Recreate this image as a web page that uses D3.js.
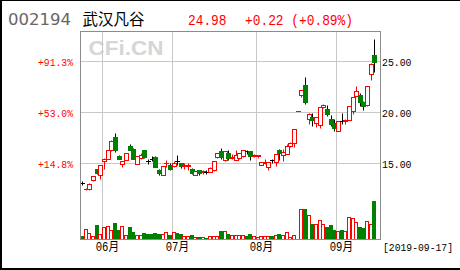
<!DOCTYPE html>
<html>
<head>
<meta charset="utf-8">
<script src="https://cdn.jsdelivr.net/npm/d3@7"></script>
<style>
body { margin: 0; background: #fff; }
svg { display: block; }
</style>
</head>
<body>
<div id="chart"></div>
<script>
const stockCode = "002194";
const stockName = "武汉凡谷";
const lastDate = "2019-09-17";
const monthLabels = ["06月", "07月", "08月", "09月"];
const monthStartIndex = [6, 25, 48, 70];
const priceTicks = [15, 20, 25];

// daily candles, 2019-05-24 .. 2019-09-17
const open = [13.07, 12.47, 12.45, 13.35, 14.41, 13.85, 15.20, 15.46, 16.27, 17.58,
  15.72, 14.97, 15.36, 16.70, 16.40, 14.97, 15.50, 16.27, 15.20, 15.45,
  15.62, 14.31, 13.90, 15.00, 14.80, 14.70, 15.23, 15.03, 14.70, 14.74,
  14.48, 13.90, 14.31, 14.15, 14.12, 14.15, 14.31, 15.62, 16.21, 15.29,
  16.00, 15.56, 15.36, 15.50, 15.69, 16.20, 16.17, 15.75, 15.70, 14.87,
  15.00, 14.64, 15.29, 15.13, 16.27, 15.78, 15.95, 16.70, 17.00, 20.16,
  21.67, 22.65, 19.30, 19.50, 18.95, 18.80, 20.50, 20.32, 19.38, 18.95,
  18.20, 19.19, 19.15, 19.28, 20.10, 21.64, 21.73, 21.00, 20.69, 23.75, 25.60];
const high = [13.27, 12.56, 13.02, 13.76, 14.45, 14.82, 15.50, 16.30, 17.25, 17.97,
  15.78, 15.26, 16.05, 16.86, 16.50, 15.72, 16.05, 16.30, 15.40, 15.69,
  15.70, 14.46, 14.78, 15.36, 15.05, 15.25, 15.78, 15.06, 15.00, 15.07,
  14.52, 14.22, 14.35, 14.35, 14.30, 14.60, 15.26, 16.05, 16.47, 16.25,
  16.30, 15.90, 16.30, 16.05, 16.30, 16.35, 16.25, 15.90, 15.85, 15.16,
  15.40, 15.16, 15.40, 15.90, 16.40, 16.43, 16.90, 17.05, 18.34, 20.17,
  22.19, 23.46, 19.95, 19.93, 19.55, 20.52, 20.80, 20.69, 19.77, 19.38,
  19.15, 19.93, 19.30, 20.62, 21.50, 22.55, 21.90, 21.08, 22.58, 24.80, 27.22];
const low = [12.84, 12.42, 12.42, 13.30, 14.00, 13.50, 14.40, 15.40, 16.20, 16.10,
  15.40, 14.64, 15.30, 16.30, 15.40, 14.90, 15.45, 15.50, 14.95, 15.20,
  14.60, 13.85, 13.85, 14.64, 14.35, 14.65, 14.80, 14.50, 14.40, 14.35,
  14.00, 13.85, 13.90, 13.95, 13.95, 14.10, 14.25, 15.55, 15.45, 15.20,
  15.30, 15.40, 15.30, 15.40, 15.60, 15.95, 15.36, 15.60, 15.55, 14.80,
  14.90, 14.38, 15.00, 14.75, 15.30, 15.20, 15.90, 16.60, 16.55, 20.16,
  21.50, 20.85, 18.90, 18.63, 18.60, 18.50, 20.45, 19.60, 18.63, 18.20,
  18.15, 18.85, 18.90, 19.20, 19.80, 21.60, 20.59, 20.26, 20.60, 23.20, 24.00];
const close = [13.07, 12.52, 12.98, 13.73, 14.05, 14.80, 15.46, 16.27, 17.16, 16.27,
  15.46, 15.23, 16.01, 16.34, 15.46, 15.69, 15.78, 15.62, 15.20, 15.45,
  14.64, 14.05, 14.74, 15.07, 14.41, 15.07, 15.23, 14.74, 14.80, 14.84,
  14.05, 14.20, 14.05, 14.22, 14.12, 14.58, 15.23, 16.01, 15.62, 16.20,
  15.50, 15.65, 15.78, 16.00, 16.27, 16.20, 15.69, 15.80, 15.78, 15.13,
  15.10, 15.13, 15.29, 15.88, 16.00, 16.11, 16.67, 16.99, 18.34, 20.17,
  22.19, 21.00, 19.87, 19.20, 19.50, 20.49, 20.69, 19.83, 18.85, 18.46,
  19.12, 19.19, 19.22, 20.59, 21.47, 22.06, 21.00, 20.59, 22.55, 24.76, 24.98];
const volume = [3.3, 11, 6.7, 3.3, 14.3, 6, 12, 13.3, 9.3, 16.7,
  9.3, 13.3, 4.3, 12.7, 7.7, 4.3, 4.3, 6.7, 5.3, 5.3,
  6.7, 6, 5.3, 7.3, 4.3, 7.3, 6.7, 6, 3.3, 3.3,
  4.3, 2.3, 2.3, 2.3, 1.7, 3.3, 4, 4, 8.3, 8.3,
  6, 4.3, 5, 4.3, 5, 3.7, 5.3, 3.3, 2.7, 4,
  3.7, 4, 4, 4.3, 5.3, 5, 7, 2, 5, 1,
  31, 31, 25, 16, 16, 20, 16, 12.7, 14.3, 10,
  9, 10, 8.3, 23, 21.6, 18, 13, 11.5, 19, 16, 38.5];

const RED = "#ff0000", GREEN = "#008000";

function drawChart() {
    let width = 460, height = 270;
    let plotLeft = 80, plotRight = 381, plotTop = 31, plotBottom = 240;

    let svg = d3.select("#chart")
        .append("svg")
        .attr("width", width)
        .attr("height", height)
        .style("background", "#fff");

    let x = d3.scaleLinear().domain([-0.6, 81.8]).range([plotLeft, plotRight]);
    let y = d3.scaleLinear().domain([15, 25]).range([163.3, 61.3]);
    let yVol = d3.scaleLinear().domain([0, 40]).range([239.5, 199.5]);
    let px = v => Math.round(v) + 0.5;

    // outer frame (left, top, bottom)
    svg.append("rect").attr("x", 0).attr("y", 0).attr("width", 2).attr("height", height).attr("fill", "#000");
    svg.append("rect").attr("x", 0).attr("y", 0).attr("width", width).attr("height", 1).attr("fill", "#000");
    svg.append("rect").attr("x", 0).attr("y", height - 2).attr("width", width).attr("height", 2).attr("fill", "#000");

    // header
    svg.append("text").attr("x", 8).attr("y", 25)
        .style("font-family", "DejaVu Sans").style("font-size", "16.5px").attr("fill", "#666")
        .attr("textLength", 63).text(stockCode);
    svg.append("text").attr("x", 82.5).attr("y", 25)
        .style("font-family", "Noto Sans CJK SC").style("font-size", "15.5px").attr("fill", "#000")
        .text(stockName);

    let last = close[close.length - 1], prev = close[close.length - 2];
    let chg = last - prev;
    svg.append("text").attr("x", 188).attr("y", 25)
        .style("font-family", "Liberation Mono").style("font-size", "15px").attr("fill", RED)
        .attr("textLength", 38.5).attr("lengthAdjust", "spacingAndGlyphs")
        .text(d3.format(".2f")(last));
    svg.append("text").attr("x", 245).attr("y", 25)
        .style("font-family", "Liberation Mono").style("font-size", "15px").attr("fill", RED)
        .attr("textLength", 108).attr("lengthAdjust", "spacingAndGlyphs")
        .text(d3.format("+.2f")(chg) + " (" + d3.format("+.2%")(chg / prev) + ")");

    // watermark
    svg.append("text").attr("x", 88.5).attr("y", 55)
        .style("font-family", "Liberation Sans").style("font-weight", "bold").style("font-size", "21px")
        .attr("fill", "#d6d6d6").attr("textLength", 75).attr("lengthAdjust", "spacingAndGlyphs")
        .text("CFi.CN");

    // grid
    let grid = svg.append("g").attr("stroke", "#c8c8c8").attr("stroke-width", 1);
    priceTicks.forEach(t => {
        grid.append("line").attr("x1", plotLeft).attr("x2", plotRight)
            .attr("y1", px(y(t))).attr("y2", px(y(t)));
    });
    monthStartIndex.forEach(i => {
        grid.append("line").attr("x1", px(x(i - 0.5))).attr("x2", px(x(i - 0.5)))
            .attr("y1", plotTop).attr("y2", plotBottom);
    });

    // axis labels
    let base = close[0];
    priceTicks.forEach(t => {
        svg.append("text").attr("x", 73).attr("y", px(y(t)) + 4)
            .attr("text-anchor", "end")
            .style("font-family", "Liberation Mono").style("font-size", "10.5px").attr("fill", RED)
            .attr("textLength", 35).attr("lengthAdjust", "spacingAndGlyphs")
            .text(d3.format("+.1%")(t / base - 1));
        svg.append("text").attr("x", 382).attr("y", px(y(t)) + 4)
            .style("font-family", "Liberation Mono").style("font-size", "10.5px").attr("fill", "#000")
            .attr("textLength", 29.5).attr("lengthAdjust", "spacingAndGlyphs")
            .text(d3.format(".2f")(t));
    });
    monthStartIndex.forEach((i, k) => {
        svg.append("text").attr("x", px(x(i - 0.5)) - 6.8).attr("y", 250.5)
            .style("font-family", "Liberation Mono, Noto Sans CJK SC").style("font-size", "12px").attr("fill", "#000")
            .attr("textLength", 23.3).attr("lengthAdjust", "spacingAndGlyphs")
            .text(monthLabels[k]);
    });
    svg.append("text").attr("x", 383).attr("y", 250.5)
        .style("font-family", "Liberation Mono").style("font-size", "11.5px").attr("fill", "#000")
        .attr("textLength", 70).attr("lengthAdjust", "spacingAndGlyphs")
        .text("[" + lastDate + "]");

    // volume bars
    let vol = svg.append("g");
    volume.forEach((v, i) => {
        let cx = px(x(i));
        let top = px(yVol(v));
        let up = close[i] > open[i];
        vol.append("rect")
            .attr("x", cx - 2).attr("y", top)
            .attr("width", 3).attr("height", Math.max(0, 239.5 - top))
            .attr("fill", up ? "#fff" : GREEN)
            .attr("stroke", up ? RED : GREEN)
            .attr("stroke-width", 1);
    });

    // candles
    let candles = svg.append("g");
    open.forEach((o, i) => {
        let c = close[i];
        let cx = px(x(i));
        let color = c > o ? RED : (c < o ? GREEN : "#000");
        let wickColor = c > o ? RED : "#000";
        candles.append("line")
            .attr("x1", cx).attr("x2", cx)
            .attr("y1", px(y(high[i]))).attr("y2", px(y(low[i])))
            .attr("stroke", wickColor).attr("stroke-width", 1);
        let top = px(y(Math.max(o, c)));
        let bot = px(y(Math.min(o, c)));
        if (bot - top < 1) {
            candles.append("line")
                .attr("x1", cx - 2.5).attr("x2", cx + 2.5)
                .attr("y1", top).attr("y2", top)
                .attr("stroke", color).attr("stroke-width", 1);
        } else {
            candles.append("rect")
                .attr("x", cx - 2).attr("y", top)
                .attr("width", 4).attr("height", bot - top)
                .attr("fill", c > o ? "#fff" : GREEN)
                .attr("stroke", color).attr("stroke-width", 1);
        }
    });

    // plot frame
    svg.append("rect")
        .attr("x", plotLeft + 0.5).attr("y", plotTop + 0.5)
        .attr("width", plotRight - plotLeft - 1).attr("height", plotBottom - plotTop - 1)
        .attr("fill", "none").attr("stroke", "#8c8c8c").attr("stroke-width", 1);
}

window.onload = () => {
    drawChart();
}
</script>
</body>
</html>
